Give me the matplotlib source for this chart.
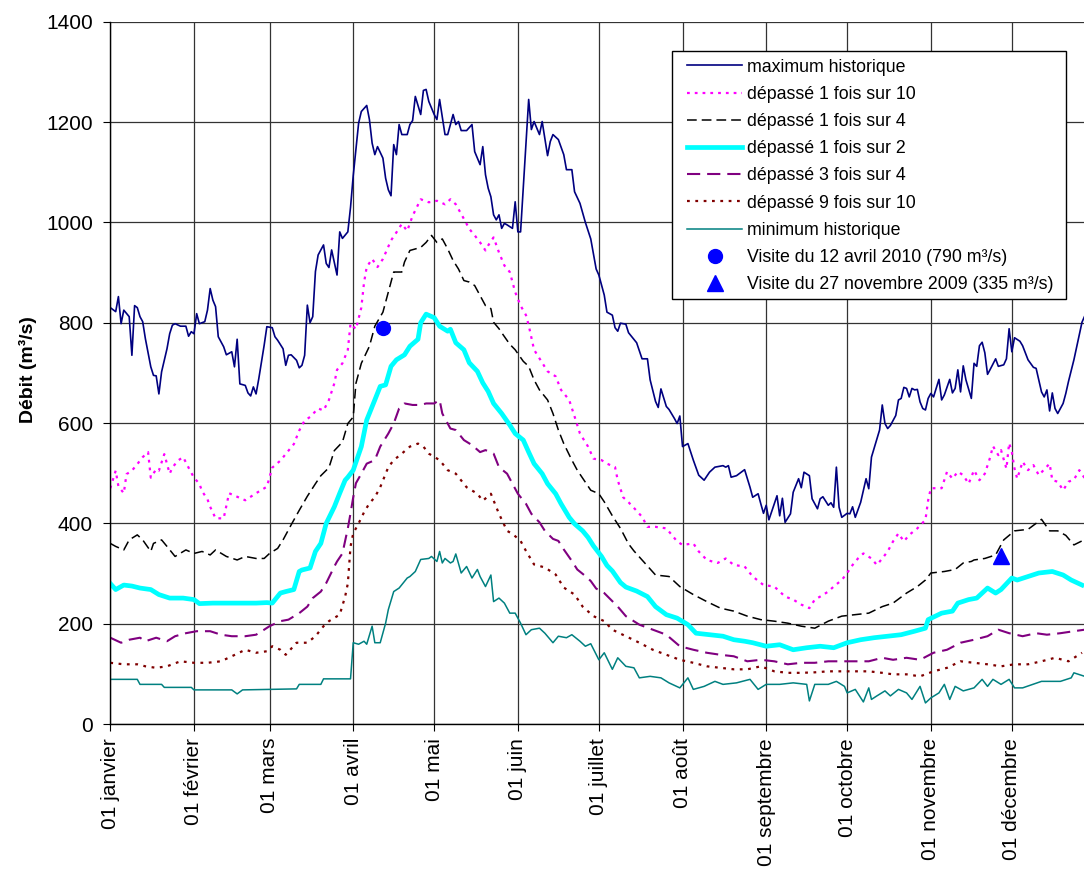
import matplotlib
matplotlib.use('Agg')
import matplotlib.pyplot as plt
from matplotlib.patches import Rectangle
import numpy as np

plt.rcParams['font.family'] = ['Liberation Sans', 'DejaVu Sans']
plt.rcParams['lines.scale_dashes'] = False

# jours depuis le 1er janvier (0 = 01 janvier) et débits (m3/s)
max_jours = [0, 2, 3, 4, 5, 7, 8, 9, 10, 11, 12, 13, 15, 16, 17, 18, 19, 21, 22, 23, 24, 26, 28, 29, 30,
             31, 32, 33, 35, 36, 37, 38, 39, 40, 42, 43, 45, 46, 47, 48, 50, 51, 52, 53, 54, 55, 56, 57,
             58, 60, 61, 62, 64, 65, 66, 67, 69, 70, 71, 72, 73, 74, 75, 76, 77, 79, 80, 81, 82, 84, 85,
             86, 88, 89, 90, 91, 92, 93, 95, 96, 97, 98, 99, 101, 102, 103, 104, 105, 106, 107, 108, 110,
             111, 112, 113, 115, 116, 117, 118, 120, 121, 122, 124, 125, 127, 128, 129, 130, 132, 134,
             135, 136, 137, 138, 139, 140, 141, 142, 143, 144, 145, 146, 147, 149, 150, 151, 152, 155,
             156, 157, 159, 160, 162, 163, 164, 166, 168, 169, 171, 172, 174, 176, 178, 180, 181, 183,
             184, 186, 187, 188, 189, 191, 192, 195, 197, 199, 200, 202, 203, 204, 206, 207, 209, 210,
             211, 212, 214, 216, 218, 220, 222, 224, 227, 228, 229, 230, 232, 235, 237, 238, 240, 241,
             242, 243, 244, 245, 247, 248, 249, 250, 252, 253, 255, 256, 257, 259, 260, 262, 263, 264,
             266, 267, 268, 269, 270, 271, 273, 274, 275, 276, 278, 280, 281, 282, 285, 286, 287, 288,
             289, 291, 292, 293, 294, 295, 296, 297, 298, 299, 300, 301, 302, 303, 304, 305, 307, 308,
             309, 311, 312, 313, 314, 315, 316, 317, 319, 320, 321, 322, 323, 324, 325, 326, 328, 329,
             331, 332, 333, 334, 335, 337, 338, 340, 342, 343, 345, 346, 347, 348, 349, 350, 351, 353,
             354, 355, 357, 360, 364]
max_debit = [830, 822, 852, 798, 825, 812, 735, 834, 830, 812, 802, 768, 712, 695, 694, 658, 702, 748, 778,
             795, 798, 793, 793, 773, 782, 778, 818, 798, 802, 825, 868, 845, 832, 772, 752, 736, 742, 712,
             767, 678, 675, 660, 654, 672, 658, 688, 722, 755, 792, 790, 772, 765, 748, 715, 735, 736, 725,
             710, 715, 735, 835, 800, 812, 902, 935, 955, 918, 910, 945, 895, 981, 968, 981, 1030, 1093,
             1145, 1198, 1221, 1233, 1205, 1158, 1135, 1151, 1128, 1088, 1065, 1053, 1155, 1135, 1195,
             1175, 1175, 1195, 1203, 1251, 1215, 1263, 1265, 1241, 1215, 1205, 1245, 1175, 1175, 1215,
             1195, 1201, 1183, 1183, 1195, 1141, 1128, 1115, 1151, 1095, 1068, 1051, 1015, 1005, 1015,
             988, 998, 995, 988, 1041, 981, 981, 1245, 1185, 1201, 1175, 1201, 1133, 1161, 1175, 1165,
             1135, 1105, 1105, 1061, 1038, 1000, 967, 907, 895, 855, 821, 815, 790, 783, 799, 797, 780,
             760, 728, 728, 686, 643, 631, 668, 633, 627, 609, 599, 614, 553, 559, 526, 496, 486, 502,
             512, 515, 512, 515, 492, 495, 507, 472, 452, 459, 439, 420, 436, 407, 423, 455, 415, 450,
             402, 419, 462, 489, 471, 502, 495, 449, 429, 449, 453, 436, 441, 432, 512, 432, 412, 420,
             419, 433, 412, 442, 489, 469, 532, 586, 636, 599, 589, 595, 615, 646, 649, 671, 669, 652,
             669, 666, 667, 642, 629, 626, 649, 659, 652, 687, 646, 656, 687, 660, 669, 706, 662, 714,
             686, 649, 719, 713, 754, 761, 740, 697, 707, 728, 713, 716, 728, 788, 742, 770, 763, 754,
             726, 711, 709, 662, 652, 666, 624, 660, 629, 619, 639, 659, 683, 726, 801, 850]

d10_jours = [0, 2, 3, 5, 6, 8, 10, 12, 14, 15, 17, 18, 20, 22, 23, 25, 27, 29, 31, 33, 34, 36, 37, 39, 42,
             44, 47, 50, 54, 58, 60, 63, 66, 68, 70, 72, 74, 77, 79, 81, 83, 84, 86, 88, 89, 91, 93, 94,
             95, 97, 99, 101, 104, 106, 108, 110, 112, 115, 118, 121, 124, 126, 128, 131, 133, 135, 137,
             139, 140, 142, 144, 146, 148, 150, 152, 154, 155, 157, 160, 162, 165, 167, 170, 172, 174,
             177, 179, 182, 184, 187, 188, 190, 192, 195, 197, 199, 202, 206, 210, 212, 216, 218, 221,
             225, 228, 231, 235, 238, 242, 246, 250, 253, 256, 259, 261, 263, 266, 268, 271, 273, 275,
             277, 279, 282, 284, 286, 288, 290, 292, 294, 296, 299, 302, 303, 304, 308, 310, 312, 314,
             316, 318, 320, 322, 324, 326, 327, 329, 330, 332, 333, 334, 335, 336, 338, 340, 342, 344,
             348, 349, 351, 353, 355, 357, 359, 361]
d10_debit = [470, 505, 474, 460, 498, 505, 518, 532, 542, 491, 508, 505, 538, 499, 511, 525, 532, 511, 491,
             479, 464, 448, 433, 410, 410, 460, 453, 446, 460, 473, 511, 525, 545, 558, 585, 605, 612, 629,
             625, 646, 679, 706, 719, 746, 798, 787, 830, 880, 911, 927, 911, 927, 964, 980, 997, 983,
             1013, 1046, 1040, 1043, 1036, 1046, 1036, 1007, 987, 974, 960, 944, 954, 970, 940, 914, 901,
             861, 834, 815, 795, 746, 720, 703, 693, 666, 646, 613, 579, 553, 529, 526, 519, 512, 486,
             452, 442, 425, 413, 393, 393, 390, 364, 357, 360, 344, 327, 321, 330, 317, 314, 294, 277,
             274, 254, 248, 238, 231, 248, 254, 264, 274, 287, 301, 317, 330, 340, 330, 317, 330, 344,
             364, 380, 364, 377, 390, 407, 446, 470, 470, 503, 489, 503, 496, 479, 506, 486, 499, 532,
             554, 536, 546, 509, 560, 542, 509, 489, 523, 506, 516, 496, 519, 486, 483, 466, 483, 487,
             506, 490]

d4_jours = [0, 2, 5, 7, 10, 12, 15, 16, 19, 21, 24, 28, 31, 34, 37, 39, 43, 47, 50, 54, 57, 59, 62, 64, 67,
            70, 73, 76, 78, 81, 83, 86, 88, 90, 91, 93, 96, 98, 101, 103, 105, 108, 109, 111, 115, 117,
            119, 121, 123, 125, 127, 129, 131, 133, 135, 137, 139, 141, 142, 144, 145, 148, 150, 153, 155,
            157, 159, 162, 164, 166, 168, 171, 173, 176, 178, 181, 183, 186, 189, 192, 194, 198, 202, 207,
            211, 216, 221, 226, 231, 236, 241, 246, 251, 256, 261, 266, 271, 276, 281, 286, 290, 295, 299,
            302, 304, 309, 313, 316, 319, 320, 324, 328, 331, 335, 340, 345, 348, 351, 354, 357, 360]
d4_debit = [360, 354, 347, 367, 377, 367, 344, 360, 367, 354, 334, 347, 340, 344, 337, 347, 334, 327, 334,
            330, 330, 340, 350, 367, 397, 426, 454, 479, 495, 511, 545, 562, 599, 612, 679, 719, 753, 793,
            821, 861, 901, 901, 921, 944, 950, 960, 974, 960, 967, 947, 924, 907, 884, 881, 874, 854, 834,
            828, 801, 788, 780, 757, 746, 723, 713, 686, 666, 646, 619, 586, 559, 526, 506, 482, 466, 459,
            443, 415, 390, 359, 345, 321, 297, 294, 274, 258, 244, 231, 225, 215, 208, 205, 201, 195, 191,
            205, 215, 218, 221, 234, 241, 261, 274, 287, 301, 304, 308, 321, 324, 327, 330, 337, 367, 385,
            388, 408, 385, 385, 376, 357, 365]

d2_jours = [0, 2, 5, 8, 11, 15, 18, 22, 27, 31, 33, 38, 45, 54, 58, 60, 63, 65, 68, 70, 71, 74, 76, 78, 80,
            83, 85, 87, 88, 90, 93, 95, 98, 100, 102, 104, 106, 109, 111, 114, 115, 117, 120, 122, 125,
            126, 128, 131, 133, 136, 138, 140, 142, 145, 148, 150, 153, 155, 157, 160, 162, 165, 167, 170,
            172, 175, 177, 179, 182, 184, 186, 189, 191, 195, 199, 202, 206, 210, 214, 217, 222, 227, 231,
            235, 238, 243, 248, 253, 258, 263, 268, 273, 278, 283, 288, 293, 298, 302, 303, 308, 312, 314,
            318, 321, 325, 328, 330, 334, 336, 340, 344, 349, 353, 356, 360]
d2_debit = [280, 268, 277, 275, 271, 268, 258, 251, 251, 248, 240, 241, 241, 241, 242, 241, 261, 264, 268,
            304, 307, 311, 344, 360, 400, 433, 460, 486, 492, 506, 553, 606, 646, 673, 676, 713, 726, 736,
            753, 767, 800, 817, 810, 793, 783, 787, 760, 746, 720, 703, 680, 663, 639, 619, 596, 579, 566,
            542, 519, 499, 479, 459, 439, 412, 399, 385, 372, 355, 334, 316, 305, 282, 273, 265, 254, 234,
            218, 211, 198, 181, 178, 175, 168, 165, 162, 155, 158, 148, 152, 155, 152, 162, 168, 172, 175,
            178, 185, 191, 208, 221, 225, 241, 248, 251, 271, 261, 268, 291, 287, 294, 301, 304, 297, 287,
            277]

d34_jours = [0, 4, 7, 11, 13, 17, 21, 24, 28, 32, 37, 41, 45, 50, 54, 57, 59, 63, 66, 70, 73, 75, 78, 80, 83,
             84, 86, 88, 89, 90, 91, 93, 95, 98, 100, 103, 105, 107, 109, 112, 115, 117, 120, 122, 123,
             126, 128, 131, 134, 137, 139, 142, 144, 147, 149, 151, 154, 156, 159, 161, 164, 166, 168, 171,
             173, 176, 178, 180, 183, 188, 191, 196, 201, 206, 211, 216, 221, 226, 231, 236, 241, 246, 251,
             256, 261, 266, 271, 276, 281, 286, 290, 295, 300, 305, 310, 315, 320, 325, 329, 333, 338, 343,
             347, 352, 357, 361]
d34_debit = [172, 162, 168, 172, 165, 172, 165, 175, 181, 185, 185, 178, 175, 175, 178, 188, 195, 205, 208,
             221, 234, 251, 264, 281, 314, 324, 340, 390, 420, 452, 480, 499, 519, 526, 553, 579, 599, 629,
             639, 636, 636, 639, 639, 646, 619, 589, 586, 566, 556, 542, 546, 539, 512, 499, 479, 459, 439,
             419, 402, 385, 369, 365, 348, 325, 308, 295, 285, 270, 261, 234, 215, 198, 188, 178, 155, 148,
             142, 138, 135, 125, 128, 125, 119, 122, 122, 125, 125, 125, 125, 132, 128, 132, 128, 142, 148,
             162, 168, 175, 188, 181, 175, 181, 178, 181, 185, 188]

d9_jours = [0, 5, 10, 13, 17, 21, 26, 31, 36, 41, 45, 50, 54, 58, 60, 63, 65, 69, 73, 76, 79, 81, 85, 87, 88,
            89, 90, 92, 94, 96, 98, 100, 103, 105, 108, 111, 114, 116, 118, 122, 125, 128, 132, 136, 138,
            141, 144, 147, 149, 152, 154, 157, 161, 165, 168, 172, 175, 179, 183, 186, 191, 196, 201, 206,
            211, 216, 221, 226, 231, 236, 241, 246, 251, 256, 261, 266, 271, 276, 281, 286, 290, 295, 300,
            305, 310, 315, 320, 325, 330, 335, 340, 345, 350, 355, 360]
d9_debit = [122, 119, 119, 115, 112, 115, 125, 122, 122, 125, 135, 148, 142, 145, 155, 148, 138, 162, 162,
            175, 195, 205, 218, 254, 280, 354, 380, 400, 422, 440, 452, 472, 512, 526, 539, 553, 559, 553,
            539, 526, 506, 499, 472, 459, 445, 459, 419, 385, 379, 365, 345, 318, 312, 298, 272, 258, 234,
            215, 205, 188, 175, 162, 148, 138, 128, 122, 115, 112, 109, 109, 115, 105, 102, 102, 103, 105,
            105, 105, 105, 102, 99, 99, 95, 105, 112, 125, 122, 119, 115, 119, 119, 125, 132, 125, 142]

min_jours = [0, 10, 11, 19, 20, 30, 31, 45, 47, 49, 59, 69, 70, 78, 79, 89, 90, 92, 94, 95, 97, 98, 100, 102,
             103, 105, 107, 110, 111, 113, 115, 118, 119, 121, 122, 123, 124, 126, 127, 128, 130, 132, 134,
             136, 137, 139, 141, 142, 144, 146, 148, 150, 152, 154, 156, 159, 161, 164, 166, 169, 171, 174,
             176, 178, 181, 183, 186, 188, 191, 194, 196, 200, 204, 207, 211, 214, 216, 220, 224, 227, 232,
             237, 240, 243, 248, 253, 258, 259, 261, 266, 269, 272, 273, 276, 279, 281, 282, 284, 287, 289,
             292, 295, 297, 300, 302, 304, 307, 309, 311, 313, 316, 320, 323, 325, 327, 330, 333, 335, 338,
             345, 352, 356, 357, 361]
min_debit = [89, 89, 79, 79, 73, 73, 68, 68, 60, 68, 69, 70, 79, 79, 90, 90, 162, 159, 165, 159, 195, 162,
             162, 201, 228, 264, 271, 291, 294, 304, 328, 330, 334, 324, 344, 321, 330, 321, 324, 339, 301,
             314, 291, 308, 294, 274, 297, 244, 251, 241, 221, 221, 201, 178, 188, 191, 181, 162, 175, 172,
             178, 165, 155, 160, 128, 142, 109, 132, 115, 112, 92, 95, 92, 82, 72, 92, 69, 75, 85, 79, 82,
             89, 69, 79, 79, 82, 79, 46, 79, 79, 85, 75, 62, 69, 44, 72, 49, 56, 66, 56, 69, 62, 49, 75, 42,
             52, 62, 79, 49, 75, 66, 72, 89, 75, 89, 79, 89, 72, 72, 85, 85, 92, 102, 95]

visite_avril = (101, 790)   # 12 avril 2010
visite_nov = (330, 335)     # 27 novembre 2009

mois_jours = [0, 31, 59, 90, 120, 151, 181, 212, 243, 273, 304, 334]
mois_noms = ['01 janvier', '01 février', '01 mars', '01 avril', '01 mai', '01 juin', '01 juillet',
             '01 août', '01 septembre', '01 octobre', '01 novembre', '01 décembre']

W, H = 1084, 872
fig = plt.figure(figsize=(W / 100, H / 100), dpi=100)
# l'axe dépasse à droite : le graphique d'origine est coupé au bord
ax = fig.add_axes([110.3 / W, 148 / H, 985.2 / W, 702.3 / H])

ax.plot(max_jours, max_debit, color='#000080', lw=1.2, label='maximum historique')
ax.plot(d10_jours, d10_debit, color='#FF00FF', lw=1.6, dashes=(2, 3.6), label='dépassé 1 fois sur 10')
ax.plot(d4_jours, d4_debit, color='black', lw=1.1, dashes=(7, 3.6), label='dépassé 1 fois sur 4')
ax.plot(d2_jours, d2_debit, color='#00FFFF', lw=3.4, label='dépassé 1 fois sur 2')
ax.plot(d34_jours, d34_debit, color='#800080', lw=1.5, dashes=(9.5, 5), label='dépassé 3 fois sur 4')
ax.plot(d9_jours, d9_debit, color='#800000', lw=1.6, dashes=(2, 4), label='dépassé 9 fois sur 10')
ax.plot(min_jours, min_debit, color='#008080', lw=1.1, label='minimum historique')
ax.plot([visite_avril[0]], [visite_avril[1]], 'o', color='#0000FF', ms=10, ls='none',
        label='Visite du 12 avril 2010 (790 m³/s)')
ax.plot([visite_nov[0]], [visite_nov[1]], '^', color='#0000FF', ms=11, ls='none',
        label='Visite du 27 novembre 2009 (335 m³/s)')

ax.set_xlim(0, 365)
ax.set_ylim(0, 1400)
ax.set_yticks(np.arange(0, 1401, 200))
ax.set_xticks(mois_jours)
ax.set_xticklabels(mois_noms, rotation=90, fontsize=15)
ax.tick_params(axis='y', labelsize=15, direction='out', length=5, width=0.8, pad=7.5)
ax.tick_params(axis='x', direction='out', length=5, width=0.8, pad=5)
ax.grid(True, color='#333333', lw=0.9)
ax.set_axisbelow(True)
for s in ['top', 'right']:
    ax.spines[s].set_visible(False)
ax.spines['left'].set_linewidth(1)
ax.spines['bottom'].set_linewidth(1)

fig.text(28 / W, 1 - 370 / H, 'Débit (m³/s)', rotation=90, ha='center', va='center',
         fontsize=14, fontweight='bold')

# cadre de la légende dessiné à part (marges différentes en largeur et en hauteur)
cadre = Rectangle((671.7 / W, 1 - 299.3 / H), (1065.5 - 671.7) / W, (299.3 - 51) / H,
                  transform=fig.transFigure, facecolor='white', edgecolor='black', lw=1,
                  zorder=4.5, clip_on=False)
ax.add_patch(cadre)
leg = ax.legend(loc='upper left', bbox_to_anchor=(687 / W, 1 - 58.5 / H),
                bbox_transform=fig.transFigure, borderaxespad=0, borderpad=0, fontsize=12.8,
                frameon=False, handlelength=3.1, handletextpad=0.25, labelspacing=0.576)
leg.set_zorder(5)

fig.savefig('out.png', dpi=100)
